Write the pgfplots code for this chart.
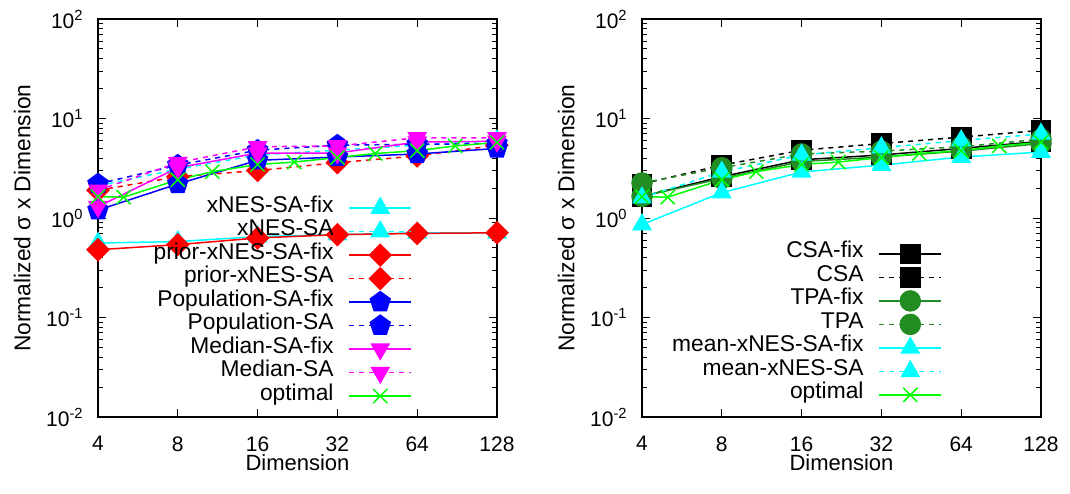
\documentclass[border=0pt]{standalone}
\usepackage{fontspec}
\setmainfont{Liberation Sans}
\usepackage{pgfplots}
\pgfplotsset{compat=1.18}
\definecolor{gpcyan}{RGB}{0,255,255}
\definecolor{gpred}{RGB}{255,0,0}
\definecolor{gpblue}{RGB}{0,0,255}
\definecolor{gpmagenta}{RGB}{255,0,255}
\definecolor{gpgreen}{RGB}{0,255,0}
\definecolor{gpforest}{RGB}{34,139,34}

\pgfplotsset{every axis/.append style={
    scale only axis, width=199.5pt, height=199pt,
    xmin=4, xmax=128, ymin=0.01, ymax=100,
    xtick={4,8,16,32,64,128}, xticklabels={4,8,16,32,64,128},
    ytick={0.01,0.1,1,10,100},
    yticklabels={10\textsuperscript{-2},10\textsuperscript{-1},10\textsuperscript{0},10\textsuperscript{1},10\textsuperscript{2}},
    minor ytick={0.02,0.03,0.04,0.05,0.06,0.07,0.08,0.09,0.2,0.3,0.4,0.5,0.6,0.7,0.8,0.9,2,3,4,5,6,7,8,9,20,30,40,50,60,70,80,90},
    tick align=inside, major tick length=4pt, minor tick length=2.5pt,
    tick style={black, line width=0.5pt}, axis line style={black, line width=0.6pt},
    xticklabel style={yshift=-7.5pt, inner ysep=2pt}, yticklabel style={xshift=-3.5pt},
    xlabel style={at={(axis description cs:0.5,0)}, anchor=north, yshift=-17.5pt, inner ysep=1pt, font=\fontsize{11}{13}\selectfont},
    ylabel style={at={(axis description cs:-0.19,0.5)}, anchor=center, font=\fontsize{11.4}{13}\selectfont},
    clip=false,
    legend cell align=right, legend plot pos=right,
    legend style={draw=none, fill=none, inner sep=0pt, outer sep=0pt,
      row sep=0pt, column sep=7.5pt, font=\fontsize{11.4}{13}\selectfont,
      nodes={inner sep=0pt, text height=7.9pt, text depth=3.85pt}},
}}

\begin{document}
\fontsize{10.5}{12.6}\selectfont
\begin{tikzpicture}
\useasboundingbox (0,0) rectangle (535pt,246.5pt);

% left panel
\begin{axis}[xmode=log, log basis x=2, ymode=log, at={(49pt,38pt)}, anchor=south west,
  xlabel={Dimension}, ylabel={Normalized σ x Dimension},
  legend image code/.code={\draw[mark repeat=2,mark phase=2] plot coordinates {(0pt,0pt) (15.5pt,0pt) (31pt,0pt)};},
  legend style={at={(axis description cs:0.787,0.023)}, anchor=south east}]
\addplot[gpcyan, line width=0.75pt, solid, mark=triangle*, mark size=5pt, mark options={solid}] coordinates {(4,0.56) (8,0.58) (16,0.65) (32,0.68) (64,0.71) (128,0.71)};
\addlegendentry{xNES-SA-fix}
\addplot[gpcyan, line width=0.75pt, dash pattern=on 2.5pt off 2.5pt, mark=triangle*, mark size=5pt, mark options={solid}] coordinates {(4,2.1) (8,3.1) (16,4.3) (32,4.8) (64,5.4) (128,6.0)};
\addlegendentry{xNES-SA}
\addplot[gpred, line width=0.75pt, solid, mark=square*, mark size=3.8pt, mark options={solid, rotate=45}] coordinates {(4,0.48) (8,0.54) (16,0.63) (32,0.68) (64,0.70) (128,0.71)};
\addlegendentry{prior-xNES-SA-fix}
\addplot[gpred, line width=0.75pt, dash pattern=on 2.5pt off 2.5pt, mark=square*, mark size=3.8pt, mark options={solid, rotate=45}] coordinates {(4,1.9) (8,2.6) (16,3.0) (32,3.6) (64,4.2) (128,5.4)};
\addlegendentry{prior-xNES-SA}
\addplot[gpblue, line width=0.75pt, solid, mark=pentagon*, mark size=5.2pt, mark options={solid}] coordinates {(4,1.2) (8,2.2) (16,3.8) (32,4.1) (64,4.4) (128,5.0)};
\addlegendentry{Population-SA-fix}
\addplot[gpblue, line width=0.75pt, dash pattern=on 2.5pt off 2.5pt, mark=pentagon*, mark size=5.2pt, mark options={solid}] coordinates {(4,2.2) (8,3.4) (16,4.8) (32,5.4) (64,5.5) (128,5.6)};
\addlegendentry{Population-SA}
\addplot[gpmagenta, line width=0.75pt, solid, mark=triangle*, mark size=5pt, mark options={solid, rotate=180}] coordinates {(4,1.3) (8,3.2) (16,4.5) (32,4.5) (64,5.8) (128,5.9)};
\addlegendentry{Median-SA-fix}
\addplot[gpmagenta, line width=0.75pt, dash pattern=on 2.5pt off 2.5pt, mark=triangle*, mark size=5pt, mark options={solid, rotate=180}] coordinates {(4,1.9) (8,3.6) (16,5.2) (32,5.3) (64,6.4) (128,6.4)};
\addlegendentry{Median-SA}
\addplot[gpgreen, line width=0.75pt, solid, mark=x, mark size=5pt, mark options={solid}] coordinates {(4,1.64) (5,1.62) (8,2.42) (10.8,2.92) (16,3.45) (22,3.65) (32,4.05) (44.5,4.45) (64,4.75) (89,5.3) (128,5.75)};
\addlegendentry{optimal}
\end{axis}

% right panel
\begin{axis}[xmode=log, log basis x=2, ymode=log, at={(321pt,38pt)}, anchor=south west,
  xlabel={Dimension}, ylabel={Normalized σ x Dimension},
  legend image code/.code={\draw[mark repeat=2,mark phase=2] plot coordinates {(0pt,0pt) (15.5pt,0pt) (31pt,0pt)};},
  legend style={at={(axis description cs:0.752,0.026)}, anchor=south east}]
\addplot[black, line width=0.75pt, solid, mark=square*, mark size=4.8pt, mark options={solid}] coordinates {(4,1.65) (8,2.6) (16,3.85) (32,4.3) (64,5.0) (128,5.9)};
\addlegendentry{CSA-fix}
\addplot[black, line width=0.75pt, dash pattern=on 2.5pt off 2.5pt, mark=square*, mark size=4.8pt, mark options={solid}] coordinates {(4,2.2) (8,3.4) (16,4.8) (32,5.6) (64,6.5) (128,7.6)};
\addlegendentry{CSA}
\addplot[gpforest, line width=0.75pt, solid, mark=*, mark size=5pt, mark options={solid}] coordinates {(4,1.65) (8,2.5) (16,3.7) (32,4.1) (64,4.7) (128,5.6)};
\addlegendentry{TPA-fix}
\addplot[gpforest, line width=0.75pt, dash pattern=on 2.5pt off 2.5pt, mark=*, mark size=5pt, mark options={solid}] coordinates {(4,2.25) (8,3.2) (16,4.4) (32,4.7) (64,5.2) (128,6.2)};
\addlegendentry{TPA}
\addplot[gpcyan, line width=0.75pt, solid, mark=triangle*, mark size=5pt, mark options={solid}] coordinates {(4,0.86) (8,1.8) (16,2.9) (32,3.4) (64,4.1) (128,4.6)};
\addlegendentry{mean-xNES-SA-fix}
\addplot[gpcyan, line width=0.75pt, dash pattern=on 2.5pt off 2.5pt, mark=triangle*, mark size=5pt, mark options={solid}] coordinates {(4,1.6) (8,2.9) (16,4.3) (32,5.1) (64,6.0) (128,7.0)};
\addlegendentry{mean-xNES-SA}
\addplot[gpgreen, line width=0.75pt, solid, mark=x, mark size=5pt, mark options={solid}] coordinates {(4,1.64) (5,1.62) (8,2.42) (10.8,2.92) (16,3.45) (22,3.65) (32,4.05) (44.5,4.45) (64,4.75) (89,5.3) (128,5.75)};
\addlegendentry{optimal}
\end{axis}
\end{tikzpicture}
\end{document}
